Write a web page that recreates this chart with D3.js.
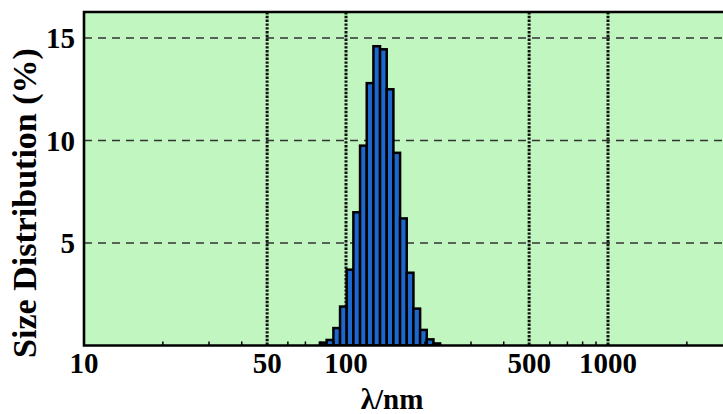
<!DOCTYPE html>
<html>
<head>
<meta charset="utf-8">
<script src="https://cdn.jsdelivr.net/npm/d3@7"></script>
<style>
  body { margin: 0; background: #fff; }
  svg { display: block; }
  text { font-family: "Liberation Serif", "Times New Roman", Times, serif; font-weight: bold; }
</style>
</head>
<body>
<script>
var width = 723,
    height = 414

// bin centres (nm) and size distribution (%)
var sizes = [81.9, 86.9, 92.2, 97.7, 103.6, 109.9, 116.5, 123.6, 131.0, 138.9,
             147.3, 156.2, 165.6, 175.6, 186.3, 197.5, 209.4, 222.1];
var values = [0.14, 0.27, 0.85, 1.9, 3.7, 6.5, 9.75, 12.8, 14.6, 14.45,
              12.5, 9.4, 6.2, 3.55, 1.8, 0.76, 0.3, 0.1];

var xTicks = [10, 50, 100, 500, 1000];
var xGrid = [50, 100, 500, 1000];
var xMinor = [20, 30, 40, 60, 70, 80, 90, 200, 300, 400, 600, 700, 800, 900, 2000, 3000, 4000];
var yTicks = [5, 10, 15];

var margin = ({top: 12, left: 84, bottom: 345.5});

var x = d3.scaleLog()
    .domain([10, 10000])
    .range([margin.left, 870]);

var y = d3.scaleLinear()
    .domain([0, 16.27])
    .range([margin.bottom, margin.top]);

var svg = d3.select("body").append("svg")
    .attr("width", width)
    .attr("height", height);

svg.append("defs").append("clipPath")
    .attr("id", "plot")
  .append("rect")
    .attr("x", margin.left)
    .attr("y", margin.top)
    .attr("width", 870 - margin.left)
    .attr("height", margin.bottom - margin.top);

// plot background
svg.append("rect")
    .attr("x", margin.left)
    .attr("y", margin.top)
    .attr("width", 870 - margin.left)
    .attr("height", margin.bottom - margin.top)
    .attr("fill", "#c1f6c1");

var g = svg.append("g").attr("clip-path", "url(#plot)");

// horizontal dashed grid
g.selectAll(".hgrid")
  .data(yTicks).enter()
  .append("line")
    .attr("x1", margin.left)
    .attr("x2", 870)
    .attr("y1", d => y(d))
    .attr("y2", d => y(d))
    .attr("stroke", "#333")
    .attr("stroke-width", 1.4)
    .attr("stroke-dasharray", "8,6");

// vertical dotted grid
g.selectAll(".vgrid")
  .data(xGrid).enter()
  .append("line")
    .attr("x1", d => x(d))
    .attr("x2", d => x(d))
    .attr("y1", margin.top)
    .attr("y2", margin.bottom)
    .attr("stroke", "#111")
    .attr("stroke-width", 3)
    .attr("stroke-dasharray", "2.4,1.4");

// bin edges from geometric midpoints of neighbouring centres
function edge(i) {
  if (i <= 0) return sizes[0] * sizes[0] / Math.sqrt(sizes[0] * sizes[1]);
  if (i >= sizes.length) {
    var n = sizes.length - 1;
    return sizes[n] * sizes[n] / Math.sqrt(sizes[n] * sizes[n - 1]);
  }
  return Math.sqrt(sizes[i - 1] * sizes[i]);
}

g.selectAll(".bar")
  .data(values).enter()
  .append("rect")
    .attr("x", (d, i) => x(edge(i)))
    .attr("width", (d, i) => x(edge(i + 1)) - x(edge(i)))
    .attr("y", d => y(d))
    .attr("height", d => y(0) - y(d))
    .attr("fill", "#1d68cf")
    .attr("stroke", "#000")
    .attr("stroke-width", 2.5);

// minor ticks on bottom axis
g.selectAll(".minor")
  .data(xMinor).enter()
  .append("line")
    .attr("x1", d => x(d))
    .attr("x2", d => x(d))
    .attr("y1", margin.bottom)
    .attr("y2", margin.bottom - 4)
    .attr("stroke", "#000")
    .attr("stroke-width", 1.5);

// frame (left, top, bottom)
svg.append("path")
    .attr("d", `M${width + 5},${margin.top}H${margin.left}V${margin.bottom}H${width + 5}`)
    .attr("fill", "none")
    .attr("stroke", "#000")
    .attr("stroke-width", 2.6);

// y tick labels
svg.selectAll(".ylab")
  .data(yTicks).enter()
  .append("text")
    .attr("x", 75)
    .attr("y", d => y(d) + 10)
    .attr("text-anchor", "end")
    .attr("font-size", 29)
    .text(d => d);

// x tick labels
svg.selectAll(".xlab")
  .data(xTicks).enter()
  .append("text")
    .attr("x", d => x(d))
    .attr("y", 373)
    .attr("text-anchor", "middle")
    .attr("font-size", 29)
    .text(d => d);

svg.append("text")
    .attr("x", 392)
    .attr("y", 409)
    .attr("text-anchor", "middle")
    .attr("font-size", 29)
    .text("λ/nm");

svg.append("text")
    .attr("transform", "translate(36,203) rotate(-90)")
    .attr("text-anchor", "middle")
    .attr("font-size", 34)
    .text("Size Distribution (%)");
</script>
</body>
</html>
